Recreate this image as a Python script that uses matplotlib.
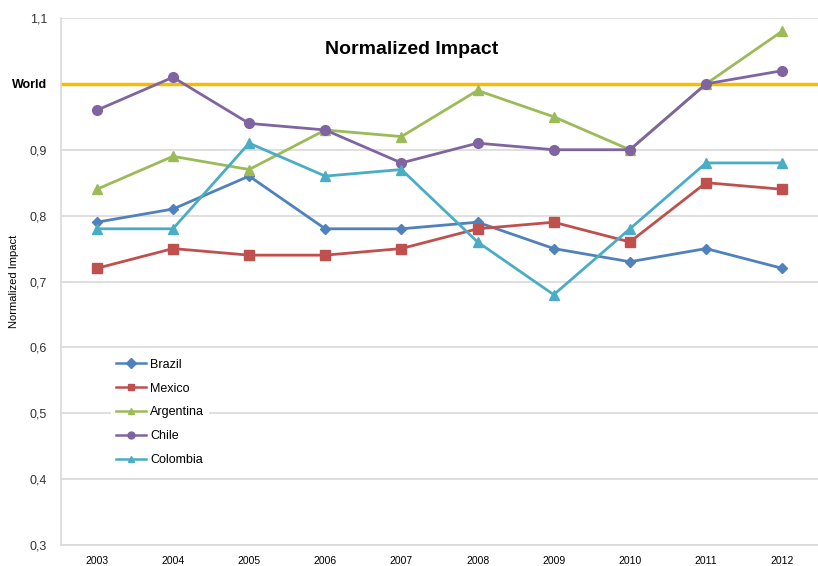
import matplotlib
matplotlib.use("Agg")
import matplotlib.pyplot as plt
from matplotlib.ticker import FixedLocator, FixedFormatter

years = ["2003", "2004", "2005", "2006", "2007", "2008", "2009", "2010", "2011", "2012"]
brazil = [0.79, 0.81, 0.86, 0.78, 0.78, 0.79, 0.75, 0.73, 0.75, 0.72]
mexico = [0.72, 0.75, 0.74, 0.74, 0.75, 0.78, 0.79, 0.76, 0.85, 0.84]
argentina = [0.84, 0.89, 0.87, 0.93, 0.92, 0.99, 0.95, 0.90, 1.00, 1.08]
chile = [0.96, 1.01, 0.94, 0.93, 0.88, 0.91, 0.90, 0.90, 1.00, 1.02]
colombia = [0.78, 0.78, 0.91, 0.86, 0.87, 0.76, 0.68, 0.78, 0.88, 0.88]
world = 1.0
yticks = [0.3, 0.4, 0.5, 0.6, 0.7, 0.8, 0.9, 1.0, 1.1]
ytick_labels = ["0,3", "0,4", "0,5", "0,6", "0,7", "0,8", "0,9", "World", "1,1"]

sans = ["Liberation Sans", "DejaVu Sans"]
fig = plt.figure(figsize=(8.18, 5.66), dpi=100)
ax = fig.add_axes([61/818, 21/566, (818-61)/818, (545-18)/566])

x = list(range(len(years)))
series = [
    ("Brazil", brazil, "#4F81BD", "D", 5.5),
    ("Mexico", mexico, "#C0504D", "s", 6.5),
    ("Argentina", argentina, "#9BBB59", "^", 7),
    ("Chile", chile, "#8064A2", "o", 7),
    ("Colombia", colombia, "#4BACC6", "^", 7),
]
for name, vals, col, mk, ms in series:
    ax.plot(x, vals, color=col, marker=mk, markersize=ms, linewidth=2, label=name, zorder=3)

ax.axhline(world, color="#F7BE00", linewidth=2.5, zorder=2)

ax.set_xlim(-0.47, 9.47)
ax.set_ylim(0.3, 1.1)
ax.yaxis.set_major_locator(FixedLocator(yticks))
ax.yaxis.set_major_formatter(FixedFormatter(ytick_labels))
ax.set_xticks(x)
ax.set_xticklabels(years, fontsize=7.5, family=sans)
for lbl in ax.get_yticklabels():
    lbl.set_fontsize(9)
    lbl.set_family(sans)
    lbl.set_color("#333333")
    if lbl.get_text() == "World":
        lbl.set_fontweight("bold")
        lbl.set_color("black")
ax.tick_params(length=0, pad=10)
ax.tick_params(axis="x", pad=8)

for yv in yticks:
    if yv != 1.0:
        ax.axhline(yv, color="#D9D9D9", linewidth=1.2, zorder=1)

for s in ["top", "right"]:
    ax.spines[s].set_visible(False)
ax.spines["left"].set_color("#D9D9D9")
ax.spines["bottom"].set_color("#D9D9D9")
ax.spines["left"].set_linewidth(1.2)
ax.spines["bottom"].set_linewidth(1.2)

ax.set_ylabel("Normalized Impact", fontsize=8, family=sans)
ax.yaxis.set_label_coords(-0.056, 0.5)

ax.text(0.463, 0.94, "Normalized Impact", transform=ax.transAxes, ha="center", va="center",
        fontsize=14, fontweight="bold", family=sans)

leg = ax.legend(loc="upper left", bbox_to_anchor=(0.058, 0.375), frameon=True,
                handlelength=2.4, labelspacing=0.95, borderpad=0.4, handletextpad=0.3,
                prop={"family": sans, "size": 9})
leg.get_frame().set_edgecolor("none")
leg.get_frame().set_facecolor("white")
leg.get_frame().set_alpha(1)
for h in leg.legend_handles:
    h.set_markersize(5)
    h.set_linewidth(1.8)

fig.savefig("out.png", dpi=100)
